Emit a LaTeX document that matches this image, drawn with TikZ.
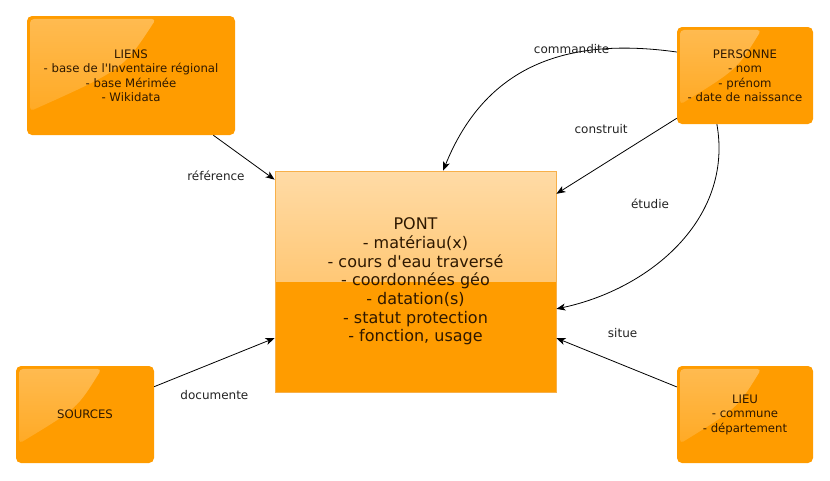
\documentclass[tikz,border=0pt]{standalone}
\usepackage{fontspec}
\setmainfont{DejaVu Sans}[Ligatures=TeXOff]
\usetikzlibrary{arrows.meta,fadings,calc}

\definecolor{boxorange}{HTML}{FF9C00}
\definecolor{pontlight}{HTML}{FFDBA6}
\definecolor{pontmid}{HTML}{FFB445}
\definecolor{pontedge}{HTML}{F7B04A}
\definecolor{textbrown}{HTML}{2E1800}
\definecolor{labelgray}{HTML}{222222}

\tikzfading[name=glossfade, top color=transparent!68, bottom color=transparent!90]

\begin{document}
\begin{tikzpicture}[x=1pt,y=-1pt,>={Stealth[length=9pt,width=7pt,inset=2.5pt]},
    entity/.style ={rectangle, rounded corners=5pt, fill=boxorange, text=textbrown, align=center,
      inner sep=0pt, font=\fontsize{11.7}{14.5}\selectfont,
      path picture={\fill[white, path fading=glossfade, rounded corners=4pt]
        ($(path picture bounding box.north west)+(3,3)$)
        -- ($(path picture bounding box.north west)!0.62!(path picture bounding box.north east)+(0,3)$)
        .. controls ($(path picture bounding box.center)+(-8,-6)$) ..
        ($(path picture bounding box.north west)!0.8!(path picture bounding box.south west)+(3,0)$) -- cycle;}},
    mainentity/.style ={rectangle, draw=pontedge, line width=0.8pt, fill=boxorange, text=textbrown,
      align=center, inner sep=0pt, font=\fontsize{16}{18.7}\selectfont,
      path picture={\shade[top color=pontlight, bottom color=pontmid]
        (path picture bounding box.north west) rectangle (path picture bounding box.east);}},
    relation/.style ={->, line width=0.8pt, black},
    rellabel/.style ={text=labelgray, inner sep=0pt, font=\fontsize{12}{14}\selectfont}]
   \useasboundingbox (0,0) rectangle (830,480);
   % entites
   \node[entity, minimum width=208pt, minimum height=119pt] (liens) at (131,75.5)
     {LIENS\\- base de l'Inventaire régional\\- base Mérimée\\- Wikidata};
   \node[entity, minimum width=136pt, minimum height=97pt] (personne) at (745,75.5)
     {PERSONNE\\- nom\\- prénom\\- date de naissance};
   \node[entity, minimum width=138pt, minimum height=97pt] (sources) at (85,414.5) {SOURCES};
   \node[entity, minimum width=136pt, minimum height=97pt] (lieu) at (745,414.5)
     {LIEU\\- commune\\- département};
   \node[mainentity, minimum width=281pt, minimum height=221pt] (pont) at (415.5,281.5)
     {PONT\\- matériau(x)\\- cours d'eau traversé\\- coordonnées géo\\- datation(s)\\- statut protection\\- fonction, usage};
   % relations
   \draw[relation] (liens) -- node[rellabel, pos=0.5, xshift=-28pt, yshift=-18.5pt] {référence} (pont);
   \draw[relation] (sources) -- node[rellabel, pos=0.5, yshift=-33pt] {documente} (pont);
   \draw[relation] (personne) -- node[rellabel, pos=0.5, xshift=-15.5pt, yshift=27pt] {construit} (pont);
   \draw[relation] (lieu) -- node[rellabel, pos=0.45, yshift=32pt] {situe} (pont);
   \draw[relation] (personne.161) to[out=172, in=68, looseness=1.1]
     node[rellabel, pos=0.35, yshift=5pt] {commandite} (pont.76);
   \draw[relation] (personne.240) to[out=-80, in=12]
     node[rellabel, pos=0.25, xshift=-62pt, yshift=-14pt] {étudie} (pont.-11);
 \end{tikzpicture}
\end{document}
